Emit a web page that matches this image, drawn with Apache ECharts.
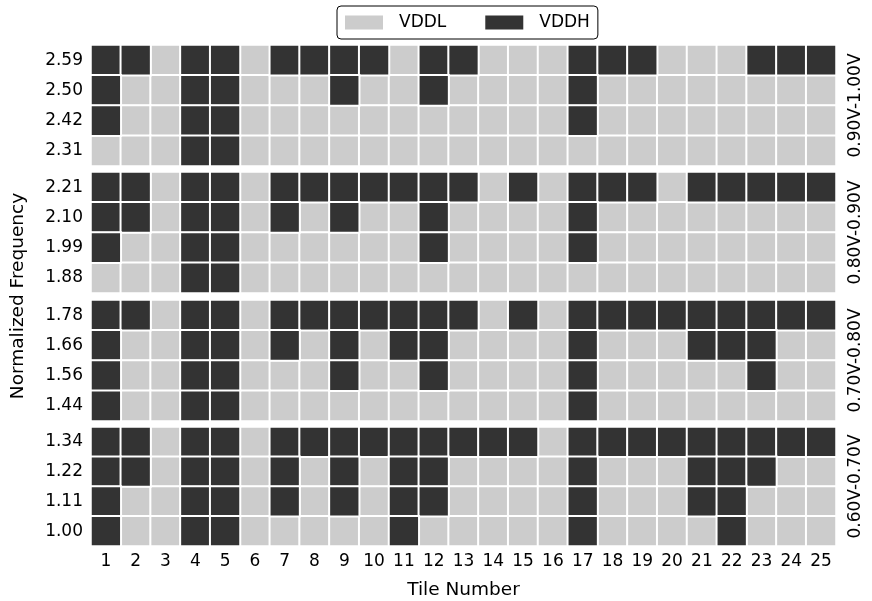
<!DOCTYPE html>
<html>
<head>
<meta charset="utf-8">
<script src="https://cdn.jsdelivr.net/npm/echarts@6/dist/echarts.min.js"></script>
<style>
  html, body { margin: 0; padding: 0; background: #fff; }
  #chart { width: 872px; height: 601px; }
</style>
</head>
<body>
<div id="chart"></div>
<script>
// tile numbers along the x axis
const tiles = ["1","2","3","4","5","6","7","8","9","10","11","12","13","14","15","16","17","18","19","20","21","22","23","24","25"];

// voltage ranges, top group first
const groupNames = ["0.90V-1.00V", "0.80V-0.90V", "0.70V-0.80V", "0.60V-0.70V"];

// normalized frequency labels per group, top row first
const freqLabels = [
  ["2.59", "2.50", "2.42", "2.31"],
  ["2.21", "2.10", "1.99", "1.88"],
  ["1.78", "1.66", "1.56", "1.44"],
  ["1.34", "1.22", "1.11", "1.00"]
];

// 1 = VDDH, 0 = VDDL, rows top to bottom inside each group
const group1 = [
  "1101101111011000111000111",
  "1001100010010000100000000",
  "1001100000000000100000000",
  "0001100000000000000000000"
];
const group2 = [
  "1101101111111010111011111",
  "1101101010010000100000000",
  "1001100000010000100000000",
  "0001100000000000000000000"
];
const group3 = [
  "1101101111111010111111111",
  "1001101010110000100011100",
  "1001100010010000100000100",
  "1001100000000000100000000"
];
const group4 = [
  "1101101111111110111111111",
  "1101101010110000100011100",
  "1001101010110000100011000",
  "1001100000100000100001000"
];
const groups = [group1, group2, group3, group4];

const LIGHT = "#cccccc";
const DARK = "#333333";
const FONT = "DejaVu Sans";

const chart = echarts.init(document.getElementById("chart"));

const gridTops = [45, 172, 300, 427];
const gridH = 121;

const grid = [], xAxis = [], yAxis = [], series = [];

groups.forEach((rows, g) => {
  grid.push({ left: 91, right: 24, top: gridTops[g], height: gridH });
  const last = g === groups.length - 1;
  xAxis.push({
    type: "category",
    gridIndex: g,
    data: tiles,
    axisLine: { show: false },
    axisTick: { show: false },
    splitLine: { show: false },
    axisLabel: { show: last, color: "#000", fontFamily: FONT, fontSize: 17, margin: 7 },
    name: last ? "Tile Number" : "",
    nameLocation: "middle",
    nameGap: 35,
    nameTextStyle: { color: "#000", fontFamily: FONT, fontSize: 18.5 }
  });
  // rows listed top first, category axis goes bottom up
  yAxis.push({
    type: "category",
    gridIndex: g,
    data: freqLabels[g].slice().reverse(),
    axisLine: { show: false },
    axisTick: { show: false },
    splitLine: { show: false },
    axisLabel: { color: "#000", fontFamily: FONT, fontSize: 17, margin: 8 }
  });
  yAxis.push({
    type: "category",
    gridIndex: g,
    position: "right",
    data: freqLabels[g],
    axisLine: { show: false },
    axisTick: { show: false },
    axisLabel: { show: false },
    name: groupNames[g],
    nameLocation: "middle",
    nameRotate: 90,
    nameGap: 11,
    nameTextStyle: { color: "#000", fontFamily: FONT, fontSize: 17 }
  });

  const low = [], high = [];
  rows.forEach((row, r) => {
    const yi = rows.length - 1 - r;
    row.split("").forEach((c, x) => {
      (c === "1" ? high : low).push([x, yi, 1]);
    });
  });
  const yIdx = g * 2;
  series.push({
    name: "VDDL", type: "heatmap", xAxisIndex: g, yAxisIndex: yIdx, data: low,
    itemStyle: { color: LIGHT, borderColor: "#fff", borderWidth: 2 },
    emphasis: { disabled: true }
  });
  series.push({
    name: "VDDH", type: "heatmap", xAxisIndex: g, yAxisIndex: yIdx, data: high,
    itemStyle: { color: DARK, borderColor: "#fff", borderWidth: 2 },
    emphasis: { disabled: true }
  });
});

chart.setOption({
  animation: false,
  backgroundColor: "#fff",
  grid, xAxis, yAxis, series,
  legend: {
    data: [
      { name: "VDDL", itemStyle: { color: LIGHT, borderWidth: 0 } },
      { name: "VDDH", itemStyle: { color: DARK, borderWidth: 0 } }
    ],
    top: 6,
    left: 337,
    icon: "rect",
    itemWidth: 38,
    itemHeight: 14,
    itemGap: 39,
    padding: [8, 8, 8, 8],
    borderColor: "#000",
    borderWidth: 1,
    borderRadius: 4,
    selectedMode: false,
    textStyle: { color: "#000", fontFamily: FONT, fontSize: 17, padding: [0, 0, 0, 11] }
  },
  graphic: [{
    type: "text",
    x: 18,
    y: 296,
    rotation: Math.PI / 2,
    style: {
      text: "Normalized Frequency",
      fill: "#000",
      font: "18.5px 'DejaVu Sans'",
      align: "center",
      verticalAlign: "middle"
    }
  }]
});
</script>
</body>
</html>
